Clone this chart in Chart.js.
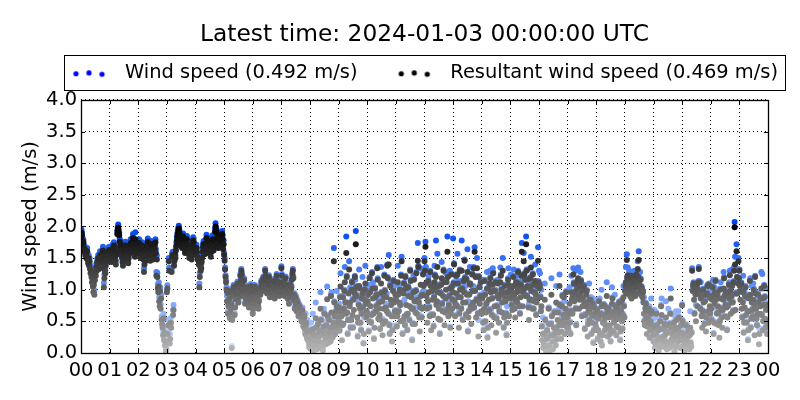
<!DOCTYPE html>
<html>
<head>
<meta charset="utf-8">
<script src="https://cdn.jsdelivr.net/npm/chart.js@4.4.1/dist/chart.umd.min.js"></script>
<style>html,body{margin:0;padding:0;background:#fff;}canvas{display:block;}</style>
</head>
<body>
<canvas id="c" width="800" height="400"></canvas>
<script>
// ---------------- data ----------------
const titleText = 'Latest time: 2024-01-03 00:00:00 UTC';
const seriesNames = ['Wind speed (0.492 m/s)', 'Resultant wind speed (0.469 m/s)'];
const hourTickLabels = ['00','01','02','03','04','05','06','07','08','09','10','11','12',
  '13','14','15','16','17','18','19','20','21','22','23','00'];
const sampleMinutes = 1; // one value per minute, 00:00 .. 24:00

// wind speed (m/s), one row per hour (60 values)
const windSpeed = [
1.88,1.95,1.90,1.83,1.77,1.79,1.71,1.66,1.68,1.60,1.63,1.55,1.58,1.66,1.52,1.48,1.55,1.44,1.50,1.39,1.32,1.36,1.27,1.19,1.30,1.12,1.03,1.14,0.99,1.21,1.33,1.28,1.41,1.36,1.49,1.43,1.55,1.47,1.39,1.52,1.61,1.54,1.46,1.41,1.51,1.63,1.68,1.57,1.11,1.24,1.36,1.31,1.44,1.49,1.58,1.53,1.62,1.66,1.59,1.68,
1.57,1.53,1.65,1.61,1.50,1.55,1.67,1.72,1.63,1.75,1.70,1.57,1.52,1.46,1.60,1.66,1.93,1.99,2.03,1.95,1.91,1.81,1.74,1.77,1.68,1.60,1.56,1.50,1.44,1.52,1.57,1.64,1.69,1.76,1.67,1.62,1.65,1.58,1.53,1.48,1.56,1.61,1.68,1.73,1.80,1.71,1.66,1.76,1.82,1.88,1.78,1.70,1.63,1.58,1.91,1.72,1.66,1.75,1.70,1.63,
1.67,1.73,1.80,1.65,1.61,1.55,1.63,1.70,1.75,1.72,1.61,1.53,1.34,1.46,1.57,1.66,1.51,1.60,1.67,1.76,1.81,1.73,1.64,1.70,1.57,1.52,1.63,1.72,1.77,1.66,1.60,1.54,1.67,1.62,1.75,1.70,1.80,1.64,1.28,1.54,1.27,1.08,1.02,1.12,0.88,0.80,1.04,0.77,0.92,0.58,0.52,0.47,0.34,0.62,0.26,0.40,0.18,0.25,0.07,0.12,
1.00,1.07,0.37,0.52,1.50,1.35,0.22,0.30,0.55,0.48,1.33,1.57,1.60,0.68,0.76,1.43,1.51,1.61,1.55,1.67,1.75,1.83,1.89,1.92,1.98,2.01,1.95,1.91,1.87,1.81,1.80,1.73,1.71,1.85,1.89,1.77,1.76,1.69,1.63,1.68,1.72,1.79,1.85,1.76,1.77,1.66,1.62,1.56,1.70,1.75,1.70,1.63,1.54,1.60,1.75,1.83,1.81,1.74,1.68,1.72,
1.63,1.68,1.71,1.66,1.57,1.54,1.52,1.46,1.10,1.27,1.42,1.36,1.40,1.50,1.55,1.66,1.73,1.77,1.70,1.62,1.68,1.72,1.80,1.87,1.76,1.64,1.70,1.76,1.72,1.70,1.82,1.76,1.58,1.66,1.74,1.80,1.86,1.78,1.68,1.74,1.84,1.97,2.05,1.99,1.95,1.88,1.80,1.76,1.72,1.78,1.90,1.86,1.76,1.82,1.84,1.90,1.93,1.86,1.70,1.78,
1.58,1.50,1.35,1.23,1.15,1.04,0.90,0.98,0.66,0.77,1.01,0.89,0.58,0.67,0.73,0.81,0.11,0.55,0.95,1.03,1.08,0.93,0.63,0.75,0.88,0.97,1.01,1.09,1.13,0.99,0.83,0.91,0.98,1.07,1.25,1.17,1.33,1.27,1.11,1.03,0.93,1.01,1.18,1.05,0.81,0.89,0.99,1.07,1.05,0.95,0.91,0.83,0.75,0.87,0.97,1.03,1.09,1.01,0.89,0.81,
0.65,0.73,0.87,0.93,1.08,1.01,0.81,0.89,0.99,1.05,0.87,0.79,0.73,0.85,1.03,0.97,0.95,1.07,1.15,1.09,1.01,1.13,1.21,1.11,1.07,1.19,1.33,1.25,1.19,1.07,0.97,1.03,1.11,1.17,1.23,1.15,0.91,0.99,1.05,1.11,1.13,1.03,0.99,1.09,1.17,1.05,0.89,0.95,1.07,1.15,1.25,1.17,1.01,1.09,1.13,1.03,0.93,0.99,1.09,1.13,
1.37,1.25,1.15,1.07,1.01,1.09,1.13,0.93,0.99,1.21,1.11,1.03,0.95,0.89,0.99,1.05,0.81,0.91,1.11,1.01,0.95,1.07,1.19,1.27,1.33,1.21,0.87,0.95,0.73,0.83,0.91,0.79,0.69,0.85,0.83,0.73,0.61,0.69,0.77,0.65,0.66,0.60,0.54,0.68,0.72,0.52,0.60,0.64,0.60,0.56,0.34,0.62,0.52,0.44,0.26,0.52,0.40,0.36,0.16,0.30,
0.10,0.16,0.48,0.08,0.17,0.34,0.62,0.24,0.07,0.34,0.22,0.30,0.80,0.42,0.14,0.30,0.32,0.48,0.26,0.46,0.12,0.38,0.96,0.54,0.37,0.40,0.12,0.07,0.30,0.70,0.64,0.36,0.50,0.16,0.46,0.32,1.05,0.60,0.18,0.56,0.54,0.42,0.34,0.20,0.92,0.96,0.42,0.26,0.28,0.50,1.66,0.82,0.60,0.55,0.36,0.68,0.98,0.44,0.50,0.58,
0.74,0.78,0.38,0.90,1.26,0.66,0.60,0.48,0.46,0.90,0.70,0.72,1.00,1.36,0.82,0.64,1.84,1.22,0.96,0.32,0.54,0.96,1.45,0.76,1.04,0.42,0.54,1.02,1.14,0.86,0.42,0.86,0.96,0.98,1.22,1.16,1.93,1.06,0.92,0.84,0.28,0.50,0.78,1.32,1.04,0.72,0.74,0.38,0.64,0.88,1.20,0.74,0.17,0.56,0.86,1.02,1.38,0.80,0.58,0.90,
0.62,1.08,0.94,0.36,0.76,1.20,0.98,1.00,0.50,0.62,1.28,1.04,1.12,0.64,0.24,0.66,1.04,0.90,0.92,0.76,0.94,1.36,1.18,0.80,0.72,0.82,0.88,0.40,0.54,1.36,0.97,0.84,0.54,0.48,0.96,0.92,1.24,1.00,0.78,0.74,0.90,0.94,1.40,1.20,0.64,1.55,0.46,0.32,1.08,1.12,0.78,0.60,0.44,0.38,1.00,1.16,1.06,0.60,0.68,0.94,
0.86,0.94,0.44,0.60,1.38,0.94,0.68,1.06,1.02,0.78,0.76,1.24,1.52,1.00,0.32,0.80,0.96,1.12,0.84,0.46,1.22,1.04,1.02,0.62,0.38,0.90,1.06,0.92,0.54,1.00,1.32,1.16,0.90,0.98,0.22,0.48,0.72,1.22,1.18,0.84,0.72,0.66,1.00,1.28,0.88,0.86,1.74,1.38,0.82,0.58,0.60,0.74,1.34,0.92,0.58,0.96,0.94,1.26,1.08,0.98,
1.50,1.32,1.76,1.36,0.92,0.72,0.74,0.84,1.16,1.22,0.74,0.60,1.30,1.08,0.62,0.62,1.00,1.10,0.62,0.44,0.90,1.38,1.24,1.06,1.78,0.78,1.08,1.57,0.98,0.80,0.72,1.08,0.32,0.78,0.96,1.10,1.44,0.80,0.68,1.16,1.32,1.14,0.70,0.66,0.88,1.26,1.14,0.70,1.84,1.22,0.84,0.78,0.92,1.30,0.42,0.64,1.26,1.06,0.96,0.86,
1.81,1.12,1.42,1.08,0.60,0.78,1.24,1.20,0.76,1.57,1.12,0.90,0.66,0.64,1.32,1.02,1.14,0.72,1.78,1.04,0.54,1.06,1.16,0.98,1.48,1.20,1.06,0.62,1.18,0.94,1.64,0.36,0.82,0.68,0.94,1.36,1.10,0.76,0.72,0.72,1.26,1.00,1.06,1.36,0.74,1.67,1.00,1.22,0.82,0.86,1.50,0.86,0.64,0.52,1.22,1.06,1.04,0.92,1.14,0.92,
0.64,0.88,1.16,0.50,0.38,0.96,1.16,0.94,0.76,0.66,0.80,1.28,0.26,0.42,1.04,1.10,0.70,1.30,1.20,0.98,0.70,0.62,0.88,1.34,1.28,1.00,0.58,1.00,1.00,1.14,0.58,0.56,0.76,1.16,1.12,0.88,0.74,0.68,0.94,1.35,1.24,1.02,0.90,0.82,1.50,0.98,0.42,0.82,1.08,0.90,1.08,0.64,0.30,0.74,0.98,1.18,1.34,0.60,0.90,1.02,
0.88,1.24,1.06,0.78,0.94,0.92,1.22,1.32,0.94,0.72,0.82,0.86,1.14,1.22,0.82,1.04,1.30,1.12,1.24,0.76,0.64,1.14,1.10,1.24,1.74,1.02,1.00,0.98,1.58,1.26,1.04,1.18,1.16,1.84,1.32,0.92,1.32,1.18,0.74,0.78,0.86,1.04,1.20,1.52,1.00,1.10,0.72,1.26,1.10,0.96,0.84,0.98,1.40,0.94,0.62,1.06,1.08,0.90,1.67,1.14,
1.30,1.04,1.26,0.90,0.68,1.00,0.44,0.22,0.56,0.10,0.16,0.32,1.10,0.54,0.12,0.04,0.48,0.38,0.26,0.14,0.72,0.72,0.12,0.06,0.30,0.48,1.18,0.60,0.20,0.08,0.30,0.66,0.20,0.66,0.34,0.14,1.06,0.42,0.24,0.78,0.66,0.34,0.70,1.24,0.78,0.52,0.24,0.60,0.76,0.92,0.70,0.62,0.90,0.82,0.32,0.50,0.96,0.98,0.64,0.42,
0.58,0.66,0.36,0.64,1.04,0.50,0.32,0.68,1.22,0.86,0.64,0.92,1.34,1.12,1.08,0.98,1.30,0.72,0.46,0.88,1.04,1.32,1.35,0.94,0.96,0.86,0.94,1.28,1.16,1.00,0.60,1.00,0.88,1.02,1.08,1.06,0.40,0.62,1.00,0.94,1.00,0.78,0.52,0.48,0.68,1.10,0.54,0.72,0.86,0.88,0.32,0.50,0.86,0.80,0.18,0.38,0.74,0.84,0.48,0.66,
0.42,0.82,0.70,0.24,0.62,0.56,0.84,0.86,0.32,0.20,0.64,1.00,0.14,0.30,0.74,0.62,0.78,0.54,0.62,0.46,0.60,0.74,1.12,0.66,0.28,0.66,0.72,0.58,0.70,0.32,0.20,0.38,0.66,1.04,0.88,0.62,0.60,0.50,0.54,0.92,0.76,0.58,0.30,0.68,0.62,0.74,0.42,0.80,0.82,0.64,0.22,0.60,0.68,0.84,0.76,0.40,0.62,1.06,0.76,0.58,
1.00,1.08,1.36,0.96,1.56,1.20,1.35,1.04,0.96,1.30,1.08,0.92,1.20,1.24,1.10,1.02,1.22,1.14,1.04,0.98,1.30,1.18,0.92,1.06,1.26,1.14,1.28,1.45,1.22,1.61,1.10,0.98,1.28,1.18,0.94,1.06,1.02,0.90,0.98,0.82,0.88,0.52,0.46,0.72,0.80,0.58,0.56,0.44,0.58,0.68,0.72,0.74,0.26,0.38,0.52,0.86,0.68,0.46,0.38,0.54,
0.20,0.32,0.68,0.10,0.18,0.56,0.64,0.46,0.16,0.46,0.38,0.06,0.36,0.26,0.52,0.40,0.76,0.86,0.22,0.14,0.12,0.50,0.40,0.48,0.30,0.20,0.82,0.36,0.08,0.16,0.34,0.70,0.18,0.10,0.48,0.64,1.02,0.42,0.46,0.32,0.14,0.22,0.60,0.50,0.04,0.12,0.28,0.66,0.54,0.38,0.12,0.20,0.66,0.58,0.32,0.22,0.10,0.50,0.46,0.34,
0.77,0.52,0.38,0.22,0.32,0.06,0.40,0.24,0.46,0.32,0.10,0.44,0.28,0.38,0.16,0.08,0.30,0.66,0.18,0.12,0.34,1.34,1.00,1.08,1.12,1.10,0.64,1.06,0.94,0.76,0.98,1.10,1.00,1.02,1.14,1.36,1.14,0.96,0.72,1.12,0.90,0.60,0.66,0.68,1.02,0.82,0.84,0.48,0.84,0.94,0.60,0.58,0.96,1.08,0.92,0.50,1.10,0.92,1.00,0.64,
0.88,0.96,0.54,0.86,1.06,1.16,0.32,0.50,1.04,0.98,1.16,0.86,0.72,0.64,0.94,1.00,0.66,0.46,0.50,0.52,1.02,1.12,0.72,0.58,0.66,0.70,0.86,1.28,1.20,0.92,0.84,0.78,0.98,0.98,0.38,0.58,1.00,0.94,1.10,1.12,1.30,1.00,0.88,0.82,0.92,1.32,0.82,0.68,1.14,1.36,2.07,1.52,0.94,0.96,1.72,1.32,1.20,1.12,1.50,1.32,
1.32,1.08,1.10,1.00,1.12,0.96,0.58,0.82,1.22,0.34,0.50,0.98,0.92,1.06,0.86,0.50,0.90,0.92,0.22,0.38,0.92,0.88,1.16,1.18,0.42,0.56,1.06,0.70,0.60,1.10,1.02,0.78,0.54,1.22,0.96,0.96,0.56,0.46,0.88,0.94,0.82,0.40,0.32,0.88,0.76,0.88,1.28,0.62,1.25,0.38,0.52,1.02,1.08,0.90,0.80,0.42,0.70,1.02,0.32,0.48,
0.492
];

// resultant wind speed (m/s), one row per hour (60 values)
const resultantSpeed = [
1.84,1.90,1.86,1.78,1.72,1.75,1.66,1.60,1.64,1.55,1.58,1.50,1.53,1.61,1.47,1.42,1.50,1.38,1.45,1.33,1.26,1.30,1.20,1.12,1.24,1.05,0.96,1.08,0.92,1.15,1.28,1.22,1.36,1.30,1.44,1.38,1.50,1.41,1.33,1.47,1.55,1.49,1.40,1.35,1.46,1.58,1.62,1.52,1.04,1.18,1.30,1.26,1.38,1.44,1.52,1.48,1.57,1.60,1.54,1.63,
1.52,1.48,1.60,1.56,1.44,1.50,1.62,1.66,1.58,1.70,1.64,1.52,1.46,1.40,1.55,1.60,1.88,1.94,1.98,1.90,1.86,1.76,1.68,1.72,1.62,1.55,1.50,1.44,1.38,1.46,1.52,1.58,1.64,1.70,1.62,1.56,1.60,1.52,1.47,1.42,1.50,1.56,1.62,1.68,1.74,1.66,1.60,1.70,1.76,1.82,1.72,1.64,1.58,1.52,1.80,1.66,1.60,1.70,1.64,1.58,
1.62,1.68,1.74,1.60,1.55,1.50,1.58,1.64,1.70,1.66,1.56,1.48,1.28,1.40,1.52,1.60,1.46,1.54,1.62,1.70,1.76,1.68,1.58,1.64,1.52,1.46,1.58,1.66,1.72,1.60,1.54,1.48,1.62,1.56,1.70,1.64,1.75,1.58,1.22,1.48,1.20,1.02,0.96,1.05,0.82,0.74,0.98,0.70,0.86,0.52,0.45,0.40,0.28,0.55,0.20,0.32,0.12,0.18,0.02,0.06,
0.96,1.02,0.30,0.44,1.45,1.30,0.15,0.22,0.48,0.40,1.28,1.52,1.55,0.60,0.68,1.38,1.46,1.56,1.50,1.62,1.70,1.78,1.84,1.88,1.94,1.97,1.90,1.86,1.82,1.76,1.74,1.68,1.66,1.80,1.84,1.72,1.70,1.64,1.58,1.62,1.66,1.74,1.80,1.70,1.72,1.60,1.56,1.50,1.64,1.70,1.64,1.58,1.48,1.54,1.70,1.78,1.76,1.68,1.62,1.66,
1.58,1.62,1.66,1.60,1.52,1.48,1.46,1.40,1.04,1.20,1.36,1.30,1.34,1.44,1.50,1.60,1.68,1.72,1.64,1.56,1.62,1.66,1.74,1.82,1.70,1.58,1.64,1.70,1.66,1.64,1.76,1.70,1.52,1.60,1.68,1.74,1.80,1.72,1.62,1.68,1.78,1.92,2.00,1.94,1.90,1.82,1.74,1.70,1.66,1.72,1.84,1.80,1.70,1.76,1.78,1.84,1.88,1.80,1.64,1.72,
1.55,1.46,1.32,1.20,1.12,1.00,0.82,0.95,0.62,0.74,0.98,0.86,0.55,0.64,0.70,0.78,0.08,0.52,0.92,1.00,1.05,0.90,0.60,0.72,0.85,0.94,0.98,1.06,1.10,0.96,0.80,0.88,0.95,1.04,1.22,1.14,1.30,1.24,1.08,1.00,0.90,0.98,1.15,1.02,0.78,0.86,0.96,1.04,1.02,0.92,0.88,0.80,0.72,0.84,0.94,1.00,1.06,0.98,0.86,0.78,
0.62,0.70,0.84,0.90,1.05,0.98,0.78,0.86,0.96,1.02,0.84,0.76,0.70,0.82,1.00,0.94,0.92,1.04,1.12,1.06,0.98,1.10,1.18,1.08,1.04,1.16,1.30,1.22,1.16,1.04,0.94,1.00,1.08,1.14,1.20,1.12,0.88,0.96,1.02,1.08,1.10,1.00,0.96,1.06,1.14,1.02,0.86,0.92,1.04,1.12,1.22,1.14,0.98,1.06,1.10,1.00,0.90,0.96,1.06,1.10,
1.34,1.22,1.12,1.04,0.98,1.06,1.10,0.90,0.96,1.18,1.08,1.00,0.92,0.86,0.96,1.02,0.78,0.88,1.08,0.98,0.92,1.04,1.16,1.24,1.30,1.18,0.84,0.92,0.70,0.80,0.88,0.76,0.66,0.82,0.80,0.70,0.58,0.66,0.74,0.62,0.62,0.56,0.50,0.64,0.68,0.48,0.42,0.60,0.56,0.38,0.30,0.44,0.48,0.26,0.22,0.34,0.36,0.18,0.12,0.08,
0.08,0.14,0.25,0.06,0.15,0.32,0.38,0.22,0.04,0.12,0.20,0.28,0.55,0.40,0.12,0.06,0.30,0.46,0.24,0.18,0.10,0.36,0.70,0.52,0.35,0.16,0.10,0.04,0.28,0.42,0.62,0.34,0.22,0.14,0.44,0.30,0.85,0.58,0.16,0.26,0.52,0.40,0.32,0.18,0.90,0.64,0.40,0.24,0.26,0.48,1.45,0.80,0.58,0.30,0.34,0.66,0.74,0.42,0.48,0.56,
0.72,0.50,0.35,0.88,1.05,0.64,0.58,0.20,0.44,0.88,0.46,0.70,0.98,1.12,0.80,0.62,1.58,1.20,0.64,0.30,0.52,0.94,1.32,0.74,0.80,0.40,0.52,1.00,1.12,0.60,0.40,0.84,0.68,0.96,1.20,0.90,1.72,1.04,0.90,0.56,0.26,0.48,0.76,1.06,1.02,0.70,0.48,0.36,0.62,0.86,0.94,0.72,0.15,0.30,0.84,1.00,1.10,0.78,0.56,0.66,
0.60,0.82,0.92,0.34,0.50,1.18,0.96,0.74,0.48,0.60,1.26,1.02,0.86,0.62,0.22,0.40,1.02,0.88,0.66,0.74,0.92,1.34,1.16,0.54,0.70,0.80,0.60,0.38,0.52,1.10,0.95,0.82,0.28,0.46,0.70,0.90,1.22,0.98,0.50,0.72,0.88,0.66,1.38,1.18,0.62,1.40,0.44,0.30,1.06,0.84,0.76,0.58,0.18,0.36,0.98,1.14,0.80,0.58,0.66,0.92,
0.84,0.66,0.42,0.58,1.12,0.92,0.66,0.80,1.00,0.76,0.50,1.22,1.45,0.98,0.30,0.52,0.94,1.10,0.58,0.44,1.20,1.02,0.76,0.60,0.36,0.62,1.04,0.90,0.52,0.74,1.30,1.14,0.88,0.70,0.20,0.46,0.70,0.96,1.16,0.82,0.46,0.64,0.98,1.26,0.62,0.84,1.46,1.36,0.80,0.56,0.34,0.72,1.08,0.90,0.56,0.70,0.92,1.24,1.06,0.72,
1.45,1.30,1.68,1.10,0.90,0.70,0.48,0.82,1.14,0.96,0.72,0.58,1.28,1.06,0.36,0.60,0.98,0.84,0.60,0.42,0.88,1.12,1.22,1.04,1.20,0.76,0.82,1.36,0.96,0.54,0.70,1.06,0.30,0.52,0.94,1.08,1.18,0.78,0.66,0.90,1.30,1.12,0.44,0.64,0.86,1.00,1.12,0.68,1.60,1.20,0.58,0.76,0.90,1.02,0.40,0.62,1.24,1.04,0.70,0.84,
0.96,1.10,1.40,0.82,0.58,0.76,1.22,0.94,0.74,1.24,1.10,0.88,0.40,0.62,1.30,1.00,0.88,0.70,1.30,1.02,0.52,0.80,1.14,0.96,1.46,1.18,0.80,0.60,1.16,0.92,1.28,0.34,0.56,0.66,0.92,1.10,1.08,0.74,0.46,0.70,1.24,0.98,0.80,1.34,0.72,1.60,0.98,1.20,0.56,0.84,1.34,0.84,0.62,0.26,1.20,1.04,0.78,0.90,1.12,0.66,
0.62,0.86,0.90,0.48,0.36,0.70,1.14,0.92,0.50,0.64,0.78,1.02,0.24,0.40,1.02,0.84,0.68,1.10,1.18,0.96,0.44,0.60,0.86,1.08,1.26,0.98,0.56,0.74,0.98,1.12,0.32,0.54,0.74,0.90,1.10,0.86,0.48,0.66,0.92,1.12,1.22,1.00,0.64,0.80,1.30,0.96,0.40,0.56,1.06,0.88,0.82,0.62,0.28,0.48,0.96,1.16,1.08,0.58,0.88,1.00,
0.86,0.98,1.04,0.76,0.68,0.90,1.20,1.06,0.92,0.70,0.56,0.84,1.12,0.96,0.80,1.02,1.28,1.10,0.98,0.74,0.62,0.88,1.08,1.22,1.60,1.00,0.74,0.96,1.45,1.24,1.02,1.16,0.90,1.72,1.30,0.90,1.06,1.16,0.72,0.52,0.84,1.02,1.18,1.35,0.98,0.84,0.70,1.24,1.08,0.70,0.82,0.96,1.14,0.92,0.60,0.80,1.06,0.88,1.46,1.12,
1.10,1.02,1.06,0.88,0.66,0.74,0.42,0.20,0.30,0.08,0.14,0.30,0.84,0.52,0.10,0.02,0.22,0.36,0.24,0.12,0.70,0.46,0.10,0.04,0.28,0.46,0.92,0.58,0.18,0.06,0.28,0.40,0.18,0.64,0.32,0.12,0.80,0.40,0.22,0.52,0.64,0.32,0.44,1.06,0.76,0.50,0.22,0.34,0.74,0.90,0.44,0.60,0.88,0.56,0.30,0.48,0.70,0.96,0.62,0.40,
0.56,0.40,0.34,0.62,0.78,0.48,0.30,0.66,0.96,0.84,0.62,0.90,1.24,1.10,0.82,0.96,1.10,0.70,0.44,0.86,1.02,1.14,1.18,0.92,0.70,0.84,0.92,1.06,1.14,0.98,0.58,0.74,0.86,1.00,1.06,0.80,0.38,0.60,0.74,0.92,0.98,0.76,0.26,0.46,0.66,0.84,0.52,0.70,0.84,0.62,0.30,0.48,0.60,0.78,0.16,0.36,0.72,0.58,0.46,0.64,
0.40,0.56,0.68,0.22,0.36,0.54,0.82,0.60,0.30,0.18,0.62,0.74,0.12,0.28,0.48,0.60,0.76,0.52,0.36,0.44,0.58,0.72,0.90,0.64,0.26,0.40,0.70,0.56,0.44,0.30,0.18,0.36,0.64,0.78,0.86,0.60,0.34,0.48,0.52,0.66,0.74,0.56,0.28,0.42,0.60,0.72,0.40,0.54,0.80,0.62,0.20,0.34,0.66,0.82,0.50,0.38,0.60,0.88,0.74,0.56,
0.98,1.06,1.12,0.94,1.47,1.18,1.23,1.02,0.94,1.10,1.06,0.90,1.18,1.22,0.86,1.00,1.20,1.12,1.02,0.96,1.10,1.16,0.90,1.04,1.24,1.12,1.06,1.33,1.20,1.47,1.08,0.96,1.04,1.16,0.92,1.04,1.00,0.88,0.96,0.80,0.62,0.50,0.44,0.70,0.78,0.56,0.30,0.42,0.56,0.66,0.70,0.48,0.24,0.36,0.50,0.62,0.66,0.44,0.36,0.28,
0.18,0.30,0.42,0.08,0.16,0.30,0.62,0.44,0.14,0.22,0.36,0.04,0.10,0.24,0.50,0.38,0.74,0.60,0.20,0.12,0.10,0.26,0.38,0.46,0.28,0.18,0.56,0.34,0.06,0.14,0.32,0.44,0.16,0.08,0.46,0.62,0.86,0.40,0.22,0.30,0.12,0.20,0.34,0.48,0.02,0.10,0.26,0.40,0.52,0.36,0.10,0.18,0.40,0.56,0.30,0.20,0.08,0.24,0.44,0.32,
0.75,0.50,0.12,0.20,0.30,0.04,0.14,0.22,0.44,0.30,0.08,0.18,0.26,0.36,0.14,0.06,0.28,0.40,0.16,0.10,0.32,1.30,0.98,1.06,1.10,0.84,0.62,1.04,0.92,0.50,0.96,1.08,0.74,1.00,1.12,1.33,1.12,0.94,0.70,0.86,0.88,0.58,0.40,0.66,1.00,0.80,0.58,0.46,0.82,0.92,0.34,0.56,0.94,1.06,0.66,0.48,1.08,0.90,0.74,0.62,
0.86,0.70,0.52,0.84,1.04,0.90,0.30,0.48,0.78,0.96,1.14,0.84,0.46,0.62,0.92,0.74,0.64,0.44,0.24,0.50,1.00,0.86,0.70,0.56,0.40,0.68,0.84,1.02,1.18,0.90,0.58,0.76,0.96,0.72,0.36,0.56,0.74,0.92,1.08,0.86,1.23,0.98,0.62,0.80,0.90,1.06,0.80,0.66,1.12,1.30,1.99,1.40,0.68,0.94,1.61,1.20,0.94,1.10,1.45,1.18,
1.30,1.06,0.84,0.98,1.10,0.70,0.56,0.80,0.96,0.32,0.48,0.72,0.90,1.04,0.60,0.48,0.88,0.66,0.20,0.36,0.66,0.86,1.14,0.92,0.40,0.54,0.80,0.68,0.58,0.84,1.00,0.76,0.28,1.20,0.94,0.70,0.54,0.44,0.62,0.92,0.80,0.14,0.30,0.62,0.74,0.86,1.02,0.60,0.86,0.36,0.50,0.76,1.06,0.88,0.54,0.40,0.68,0.76,0.30,0.46,
0.469
];

// ---------------- styling ----------------
const FONT = 'DejaVu Sans';
const FS = 19.44;          // 14pt @100dpi
const TITLE_FS = 23.33;
const LEG_B = 75;          // legend marker slot width
const LEG_P = 8;           // legend item padding

function greyFor(v) {
  const t = Math.max(0, Math.min(1, v / 2.0));
  const g = Math.round(185 * (1 - t));
  return `rgb(${g},${g},${g})`;
}
function blueFor(v) {
  const t = Math.max(0, Math.min(1, v / 2.0));
  const r = Math.round(212 * (1 - t));
  const g = Math.round(230 - 160 * t);
  const b = Math.round(255 - 15 * t);
  return `rgb(${r},${g},${b})`;
}
function toPoints(arr) {
  return arr.map((v, i) => ({ x: i * sampleMinutes / 60, y: v }));
}
function legendDots(color) {
  const c = document.createElement('canvas');
  c.width = LEG_B; c.height = 14;
  const g = c.getContext('2d');
  g.fillStyle = color;
  const offs = [[-49, 0.5], [-36, -0.3], [-23, 1.0]];
  offs.forEach(([dx, dy]) => {
    g.beginPath();
    g.arc(LEG_B + FS / 2 + dx, 7 + dy, 2.6, 0, Math.PI * 2);
    g.fill();
  });
  return c;
}
const legendIcons = [legendDots('#0000ff'), legendDots('#000000')];

function legendBoxGeom(lg) {
  const x1 = (lg.left + LEG_P + lg.right - lg.lineWidths[0]) / 2;
  const t1 = x1 + LEG_B + FS / 2;
  const e2 = x1 + lg.lineWidths[0] - LEG_P;
  return { left: t1 - 61, right: e2 + 7, cy: lg.top + LEG_P + FS / 2 };
}

const decorPlugin = {
  id: 'decor',
  afterInit(chart) {
    const lg = chart.legend;
    const orig = lg.fit;
    lg.fit = function () { orig.call(this); this.height += 7.06; };
  },
  afterLayout(chart) {
    const lg = chart.legend, ca = chart.chartArea;
    const g = legendBoxGeom(lg);
    const shift = (ca.left + ca.right) / 2 - (g.left + g.right) / 2;
    lg.left += shift; lg.right += shift;
  },
  afterDraw(chart) {
    const ctx = chart.ctx, ca = chart.chartArea;
    const xs = chart.scales.x, ys = chart.scales.y;
    ctx.save();
    ctx.strokeStyle = '#000';
    ctx.lineWidth = 1;
    ctx.beginPath();
    xs.ticks.forEach(t => {
      const px = Math.round(xs.getPixelForValue(t.value)) + 0.5;
      ctx.moveTo(px, ca.bottom); ctx.lineTo(px, ca.bottom - 4);
      ctx.moveTo(px, ca.top); ctx.lineTo(px, ca.top + 4);
    });
    ys.ticks.forEach(t => {
      const py = Math.round(ys.getPixelForValue(t.value)) + 0.5;
      ctx.moveTo(ca.left, py); ctx.lineTo(ca.left + 4, py);
      ctx.moveTo(ca.right, py); ctx.lineTo(ca.right - 4, py);
    });
    ctx.stroke();
    ctx.lineWidth = 1.3;
    ctx.strokeRect(Math.round(ca.left) + 0.5, Math.round(ca.top) + 0.5,
      Math.round(ca.right - ca.left), Math.round(ca.bottom - ca.top));
    const g = legendBoxGeom(chart.legend);
    ctx.lineWidth = 1;
    ctx.strokeRect(Math.round(g.left) + 0.5, Math.round(g.cy - 18) + 0.5,
      Math.round(g.right - g.left), 35);
    ctx.restore();
  }
};

Chart.defaults.font.family = FONT;
Chart.defaults.color = '#000';

new Chart(document.getElementById('c'), {
  type: 'scatter',
  data: {
    datasets: [
      {
        label: seriesNames[0],
        data: toPoints(windSpeed),
        order: 1,
        pointRadius: 3,
        pointHoverRadius: 3,
        borderWidth: 0,
        clip: 0,
        backgroundColor: c => blueFor(c.raw ? c.raw.y : 2)
      },
      {
        label: seriesNames[1],
        data: toPoints(resultantSpeed),
        order: 0,
        pointRadius: 3,
        pointHoverRadius: 3,
        borderWidth: 0,
        clip: 0,
        backgroundColor: c => greyFor(c.raw ? c.raw.y : 2)
      }
    ]
  },
  options: {
    responsive: false,
    devicePixelRatio: 1,
    animation: false,
    events: [],
    layout: { padding: { left: 0, right: 32, top: 0, bottom: 0 } },
    plugins: {
      tooltip: { enabled: false },
      title: {
        display: true,
        text: titleText,
        fullSize: false,
        color: '#000',
        font: { family: FONT, size: TITLE_FS, weight: 'normal' },
        padding: { top: 20.5, bottom: 7 }
      },
      legend: {
        display: true,
        position: 'top',
        labels: {
          color: '#000',
          font: { family: FONT, size: FS },
          usePointStyle: true,
          pointStyleWidth: LEG_B,
          padding: LEG_P,
          generateLabels: chart => chart.data.datasets.map((ds, i) => ({
            text: ds.label,
            fillStyle: i === 0 ? '#0000ff' : '#000',
            strokeStyle: i === 0 ? '#0000ff' : '#000',
            lineWidth: 0,
            pointStyle: legendIcons[i],
            hidden: false,
            datasetIndex: i,
            fontColor: '#000'
          }))
        }
      }
    },
    scales: {
      x: {
        type: 'linear',
        min: 0,
        max: 24,
        afterFit: s => { s.height = 47; },
        ticks: {
          stepSize: 1,
          autoSkip: false,
          maxRotation: 0,
          minRotation: 0,
          padding: 6,
          color: '#000',
          font: { family: FONT, size: FS },
          callback: v => hourTickLabels[v]
        },
        grid: { color: '#000', lineWidth: 1, drawTicks: false },
        border: { display: false, dash: [1, 3] }
      },
      y: {
        min: 0,
        max: 4,
        afterFit: s => { s.width = 81; },
        ticks: {
          stepSize: 0.5,
          padding: 4,
          color: '#000',
          font: { family: FONT, size: FS },
          callback: v => v.toFixed(1)
        },
        title: {
          display: true,
          text: 'Wind speed (m/s)',
          color: '#000',
          font: { family: FONT, size: FS },
          padding: { top: 19.3, bottom: 0 }
        },
        grid: { color: '#000', lineWidth: 1, drawTicks: false },
        border: { display: false, dash: [1, 3] }
      }
    }
  },
  plugins: [decorPlugin]
});
</script>
</body>
</html>
